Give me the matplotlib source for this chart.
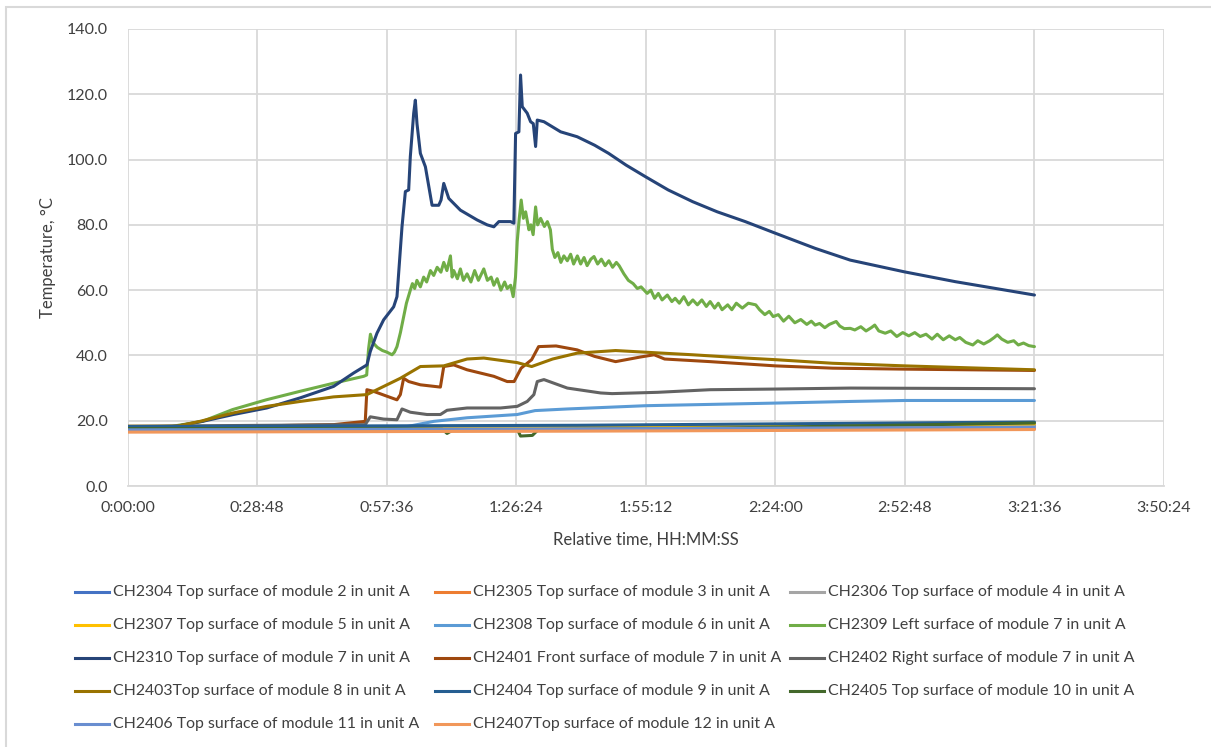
import matplotlib
matplotlib.use("Agg")
import matplotlib.pyplot as plt
from matplotlib.lines import Line2D
from matplotlib.patches import Rectangle
from matplotlib.ticker import FixedLocator, FuncFormatter

plt.rcParams['font.family'] = ['Lato', 'DejaVu Sans']

# ---------------- data (time in seconds, temperature in °C) ----------------
labels = [
    "CH2304 Top surface of module 2 in unit A",
    "CH2305 Top surface of module 3 in unit A",
    "CH2306 Top surface of module 4 in unit A",
    "CH2307 Top surface of module 5 in unit A",
    "CH2308 Top surface of module 6 in unit A",
    "CH2309 Left surface of module 7 in unit A",
    "CH2310 Top surface of module 7 in unit A",
    "CH2401 Front surface of module 7 in unit A",
    "CH2402 Right surface of module 7 in unit A",
    "CH2403Top surface of module 8 in unit A",
    "CH2404 Top surface of module 9 in unit A",
    "CH2405 Top surface of module 10 in unit A",
    "CH2406 Top surface of module 11 in unit A",
    "CH2407Top surface of module 12 in unit A",
]
colors = ["#4472C4", "#ED7D31", "#A5A5A5", "#FFC000", "#5B9BD5", "#70AD47",
          "#264478", "#9E480E", "#636363", "#997300", "#255E91", "#43682B",
          "#698ED0", "#F1975A"]

ch2304_t = [0, 6000, 12096]
ch2304_v = [17.8, 18.0, 18.6]
ch2305_t = [0, 6000, 12096]
ch2305_v = [17.0, 17.2, 17.5]
ch2306_t = [0, 6000, 12096]
ch2306_v = [17.3, 17.7, 18.3]
ch2307_t = [0, 5000, 12096]
ch2307_v = [17.5, 17.8, 19.0]
ch2308_t = [0, 3639, 3862, 4084, 4529, 5198, 5436, 5866, 6912, 8640, 9639, 10368, 12096]
ch2308_v = [17.5, 17.8, 18.8, 19.8, 20.9, 21.9, 23.1, 23.6, 24.6, 25.4, 25.9, 26.2, 26.2]
ch2309_t = [0, 600, 1000, 1400, 1850, 2300, 2750, 3000, 3150, 3190, 3215, 3240, 3270, 3330,
            3400, 3460, 3528, 3560, 3594, 3640, 3683, 3720, 3772, 3800, 3830, 3860, 3906,
            3950, 3990, 4040, 4084, 4130, 4180, 4218, 4260, 4307, 4330, 4351, 4400, 4440,
            4480, 4529, 4580, 4630, 4680, 4752, 4800, 4850, 4886, 4930, 4980, 5030, 5064,
            5110, 5144, 5175, 5198, 5225, 5251, 5280, 5310, 5354, 5380, 5410, 5443, 5470,
            5510, 5560, 5600, 5640, 5666, 5700, 5740, 5780, 5820, 5866, 5910, 5950, 6000,
            6044, 6089, 6130, 6180, 6222, 6270, 6320, 6370, 6420, 6470, 6520, 6557, 6620,
            6680, 6744, 6800, 6850, 6931, 6980, 7030, 7080, 7130, 7200, 7260, 7304, 7360,
            7420, 7480, 7540, 7600, 7660, 7720, 7771, 7830, 7880, 7930, 8005, 8060, 8120,
            8200, 8280, 8379, 8430, 8500, 8560, 8612, 8680, 8750, 8820, 8900, 8980, 9060,
            9120, 9172, 9230, 9300, 9360, 9452, 9500, 9560, 9639, 9700, 9780, 9850, 9920,
            9966, 10020, 10106, 10180, 10260, 10340, 10420, 10500, 10573, 10650, 10730,
            10800, 10880, 10960, 11040, 11100, 11180, 11274, 11340, 11420, 11500, 11560,
            11601, 11660, 11740, 11820, 11881, 11950, 12020, 12096]
ch2309_v = [18.0, 18.3, 19.8, 23.4, 26.4, 29.0, 31.5, 32.8, 33.6, 34.0, 42.0, 46.5, 44.0, 42.5,
            41.5, 41.0, 40.2, 41.0, 42.7, 47.0, 51.9, 56.0, 60.0, 62.0, 60.5, 63.0, 61.0,
            64.0, 62.5, 66.0, 64.5, 67.0, 65.5, 68.5, 66.0, 70.5, 64.0, 66.0, 63.5, 66.5,
            63.0, 65.0, 62.5, 66.0, 63.0, 66.5, 63.0, 64.0, 61.5, 63.5, 60.0, 62.5, 60.5,
            61.5, 58.0, 64.0, 75.0, 82.0, 87.6, 82.0, 84.0, 78.5, 80.0, 77.0, 85.5, 80.0,
            82.0, 79.5, 81.0, 78.5, 72.5, 70.0, 71.5, 68.5, 70.5, 69.0, 71.0, 68.0, 70.5,
            68.0, 70.0, 67.5, 69.5, 70.3, 68.0, 69.5, 67.5, 69.0, 67.0, 68.5, 67.5, 65.0,
            63.0, 62.0, 60.5, 61.0, 59.0, 60.0, 57.5, 59.0, 57.0, 58.5, 56.5, 57.5, 56.0,
            58.0, 55.5, 57.0, 55.5, 57.0, 55.0, 56.5, 54.5, 56.0, 54.0, 55.5, 54.0, 56.0,
            54.5, 56.0, 55.5, 54.0, 52.5, 53.5, 51.9, 52.5, 50.5, 52.0, 50.0, 51.0, 49.5,
            50.5, 49.3, 49.8, 48.5, 49.5, 50.4, 49.0, 48.2, 48.3, 47.8, 48.8, 47.5, 48.5,
            49.3, 47.5, 46.8, 47.5, 45.8, 47.0, 46.0, 47.0, 45.8, 46.5, 45.0,
            46.5, 44.8, 46.0, 44.8, 45.5, 44.0, 43.2, 44.5, 43.5, 44.5, 45.5,
            46.3, 45.0, 44.0, 44.5, 43.2, 43.8, 43.0, 42.7]
ch2310_t = [0, 400, 655, 1000, 1412, 1857, 2303, 2748, 3015, 3193, 3238, 3327, 3416, 3550,
            3594, 3661, 3706, 3750, 3772, 3817, 3839, 3861, 3906, 3973, 4062, 4151, 4182,
            4218, 4285, 4440, 4663, 4797, 4886, 4953, 5109, 5153, 5176, 5220, 5242, 5265,
            5331, 5376, 5412, 5443, 5465, 5554, 5777, 5997, 6230, 6417, 6650, 6912, 7211,
            7538, 7865, 8239, 8645, 9172, 9639, 10363, 11040, 12096]
ch2310_v = [18.0, 18.0, 18.3, 19.8, 21.9, 23.9, 27.0, 30.5, 34.6, 37.1, 41.2, 46.8, 50.9, 54.9,
            58.0, 79.4, 90.2, 90.7, 100.9, 114.2, 118.2, 111.0, 101.9, 97.8, 86.0, 86.0, 87.6,
            92.7, 88.1, 84.5, 81.5, 80.0, 79.4, 81.0, 81.0, 80.5, 108.0, 108.5, 125.9, 116.2,
            114.2, 111.6, 111.0, 104.0, 112.1, 111.6, 108.5, 107.0, 104.4, 101.9, 98.3, 94.7, 90.7,
            87.1, 84.0, 81.0, 77.4, 72.8, 69.2, 65.6, 62.6, 58.5]
ch2401_t = [0, 1500, 2748, 3171, 3193, 3282, 3461, 3594, 3639, 3683, 3750, 3906, 4173, 4218,
            4351, 4529, 4886, 5064, 5156, 5250, 5390, 5483, 5716, 5997, 6230, 6510, 6837,
            7024, 7164, 7771, 8640, 9405, 10368, 12096]
ch2401_v = [18.0, 18.3, 18.8, 19.8, 29.5, 29.0, 27.5, 26.4, 28.0, 33.0, 32.0, 31.0, 30.3, 36.6,
            37.1, 35.6, 33.6, 32.0, 32.0, 36.1, 38.7, 42.7, 42.9, 41.7, 39.7, 38.1, 39.5,
            40.2, 38.9, 38.1, 36.8, 36.1, 35.8, 35.4]
ch2402_t = [0, 3171, 3238, 3416, 3594, 3661, 3772, 3995, 4173, 4262, 4529, 4975, 5198, 5331,
            5420, 5465, 5554, 5866, 6311, 6463, 7070, 7771, 8640, 9639, 12096]
ch2402_v = [18.3, 18.8, 21.2, 20.5, 20.3, 23.6, 22.6, 21.9, 21.9, 23.2, 23.9, 23.9, 24.4, 25.9,
            28.0, 32.0, 32.6, 30.0, 28.5, 28.3, 28.7, 29.5, 29.7, 30.0, 29.8]
ch2403_t = [0, 655, 966, 1412, 1857, 2303, 2748, 3193, 3416, 3639, 3906, 4218, 4529, 4752,
            5198, 5390, 5670, 5997, 6510, 6977, 7538, 8239, 8640, 9405, 10368, 12096]
ch2403_v = [18.3, 18.3, 19.8, 22.4, 24.4, 25.9, 27.3, 28.0, 30.5, 33.0, 36.6, 36.8, 38.9, 39.2,
            37.8, 36.6, 38.9, 40.7, 41.5, 40.9, 40.2, 39.2, 38.7, 37.6, 36.8, 35.6]
ch2404_t = [0, 6000, 12096]
ch2404_v = [18.2, 18.6, 19.6]
ch2405_t = [0, 3500, 4200, 4262, 4350, 5200, 5242, 5400, 5480, 8000, 12096]
ch2405_v = [17.6, 17.6, 17.4, 16.1, 17.3, 17.3, 15.3, 15.5, 17.3, 17.8, 19.3]
ch2406_t = [0, 6000, 12096]
ch2406_v = [17.2, 17.5, 18.0]
ch2407_t = [0, 6000, 12096]
ch2407_v = [16.5, 16.8, 17.3]

series_t = [ch2304_t, ch2305_t, ch2306_t, ch2307_t, ch2308_t, ch2309_t, ch2310_t,
            ch2401_t, ch2402_t, ch2403_t, ch2404_t, ch2405_t, ch2406_t, ch2407_t]
series_v = [ch2304_v, ch2305_v, ch2306_v, ch2307_v, ch2308_v, ch2309_v, ch2310_v,
            ch2401_v, ch2402_v, ch2403_v, ch2404_v, ch2405_v, ch2406_v, ch2407_v]

x_ticks = [0, 1728, 3456, 5184, 6912, 8640, 10368, 12096, 13824]
y_ticks = [0, 20, 40, 60, 80, 100, 120, 140]

# ---------------- figure ----------------
W, H = 1211, 747
fig = plt.figure(figsize=(W / 100, H / 100), dpi=100)

def fx(px):
    return px / W

def fy(py):
    return 1 - py / H

# chart-area border
fig.add_artist(Rectangle((fx(6), fy(H + 5)), fx(W + 10), fy(7) - fy(H + 5),
                         transform=fig.transFigure, fill=False,
                         edgecolor="#d9d9d9", linewidth=1.5))

left, right, top, bottom = 127.5, 1164, 29, 486
ax = fig.add_axes([fx(left), fy(bottom), fx(right - left), fy(top) - fy(bottom)])

for t, v, c in zip(series_t, series_v, colors):
    ax.plot(t, v, color=c, linewidth=2.2, solid_joinstyle="round", solid_capstyle="round")

ax.set_xlim(0, 13824)
ax.set_ylim(0, 140)
ax.xaxis.set_major_locator(FixedLocator(x_ticks))
ax.yaxis.set_major_locator(FixedLocator(y_ticks))

def hms(x, pos):
    s = int(round(x))
    return f"{s // 3600}:{(s % 3600) // 60:02d}:{s % 60:02d}"

ax.xaxis.set_major_formatter(FuncFormatter(hms))
ax.yaxis.set_major_formatter(FuncFormatter(lambda y, p: f"{y:.1f}"))
ax.grid(True, color="#d9d9d9", linewidth=1.3)
ax.set_axisbelow(True)
for s in ["top", "right", "left"]:
    ax.spines[s].set_visible(False)
ax.spines["bottom"].set_color("#d9d9d9")
ax.spines["bottom"].set_linewidth(1.3)
ax.tick_params(axis="both", length=0, labelsize=11.5)
ax.tick_params(axis="x", pad=11)
ax.tick_params(axis="y", pad=14)
for lbl in ax.get_xticklabels() + ax.get_yticklabels():
    lbl.set_color("#404040")

ax.set_xlabel("Relative time, HH:MM:SS", fontsize=12, color="#404040", labelpad=12)
ax.set_ylabel("Temperature, °C", fontsize=12, color="#404040", labelpad=8)

# ---------------- legend (row-major, 3 columns) ----------------
col_x = [75, 435, 790]
row_y = [592, 625, 658, 691, 724]
for i, (lab, c) in enumerate(zip(labels, colors)):
    r, k = divmod(i, 3)
    x0 = col_x[k]
    y0 = row_y[r]
    fig.add_artist(Line2D([fx(x0), fx(x0 + 34)], [fy(y0), fy(y0)],
                          transform=fig.transFigure, color=c, linewidth=2.2))
    fig.text(fx(x0 + 38), fy(y0), lab, fontsize=11.4, color="#404040",
             va="center", ha="left")

fig.savefig("out.png", dpi=100)
